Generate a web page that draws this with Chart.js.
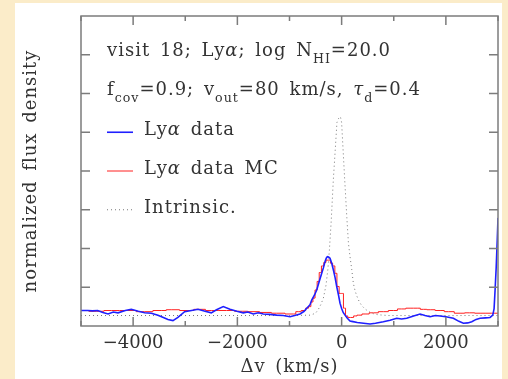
<!DOCTYPE html>
<html>
<head>
<meta charset="utf-8">
<script src="https://cdn.jsdelivr.net/npm/chart.js@4/dist/chart.umd.min.js"></script>
<style>
  html, body { margin: 0; padding: 0; }
  body { width: 508px; height: 379px; background: #fbecc9; position: relative; overflow: hidden; }
  #panel { position: absolute; left: 15px; top: 3px; width: 487px; height: 376px; background: #fff; }
  #c { position: absolute; left: 0; top: 0; }
</style>
</head>
<body>
<div id="panel"></div>
<canvas id="c" width="508" height="379"></canvas>
<script>
// Lya observed profile (blue)
const dataV = [-5000, -4870, -4780, -4680, -4580, -4480, -4380, -4290, -4150, -4036, -3900, -3779, -3650, -3524, -3420, -3332, -3236, -3140, -3012, -2880, -2756, -2620, -2501, -2400, -2271, -2142, -2010, -1887, -1800, -1695, -1600, -1503, -1380, -1246, -1120, -990, -900, -798, -720, -670, -606, -574, -520, -478, -430, -382, -350, -319, -295, -274, -250, -223, -190, -159, -125, -94, -60, -31, 0, 30, 65, 110, 161, 194, 300, 420, 545, 650, 800, 930, 1057, 1150, 1249, 1380, 1505, 1600, 1697, 1800, 1889, 2000, 2144, 2250, 2336, 2420, 2497, 2580, 2656, 2760, 2848, 2900, 2925, 2944, 2965, 2985, 3000];
const dataFlux = [0.40, 0.40, 0.39, 0.40, 0.35, 0.31, 0.36, 0.34, 0.40, 0.43, 0.38, 0.34, 0.33, 0.28, 0.22, 0.17, 0.14, 0.22, 0.37, 0.40, 0.43, 0.38, 0.34, 0.42, 0.50, 0.43, 0.38, 0.34, 0.36, 0.31, 0.34, 0.31, 0.30, 0.28, 0.27, 0.24, 0.27, 0.31, 0.38, 0.46, 0.55, 0.67, 0.80, 0.93, 1.15, 1.36, 1.50, 1.66, 1.75, 1.79, 1.78, 1.75, 1.62, 1.45, 1.25, 1.02, 0.80, 0.59, 0.45, 0.35, 0.28, 0.20, 0.13, 0.12, 0.09, 0.07, 0.05, 0.07, 0.11, 0.15, 0.20, 0.18, 0.20, 0.26, 0.31, 0.27, 0.24, 0.27, 0.26, 0.24, 0.20, 0.12, 0.07, 0.08, 0.11, 0.17, 0.20, 0.21, 0.22, 0.28, 0.45, 0.93, 1.50, 2.20, 2.79];

// Monte Carlo model (red, binned)
const mcV = [-5000, -4700, -4418, -4100, -3780, -3461, -3269, -2948, -2725, -2500, -2210, -1900, -1700, -1450, -1246, -927, -831, -720, -660, -610, -570, -530, -490, -450, -410, -365, -320, -280, -235, -195, -150, -110, -70, -25, 15, 55, 95, 140, 200, 260, 330, 450, 608, 800, 992, 1150, 1313, 1450, 1568, 1700, 1889, 2050, 2272, 2450, 2656, 2880, 3000];
const mcFlux = [0.40, 0.38, 0.40, 0.40, 0.37, 0.40, 0.42, 0.40, 0.43, 0.40, 0.40, 0.38, 0.37, 0.35, 0.33, 0.31, 0.37, 0.40, 0.46, 0.50, 0.62, 0.72, 0.93, 1.15, 1.38, 1.55, 1.64, 1.70, 1.70, 1.62, 1.55, 1.36, 1.02, 0.84, 0.84, 0.46, 0.26, 0.22, 0.22, 0.26, 0.28, 0.31, 0.34, 0.37, 0.40, 0.44, 0.46, 0.46, 0.43, 0.42, 0.40, 0.37, 0.33, 0.34, 0.33, 0.33, 0.33];

// intrinsic profile (dotted)
const intrV = [-5000, -1000, -600, -500, -450, -400, -350, -300, -265, -235, -200, -160, -120, -90, -60, -44, -20, 0, 30, 60, 100, 130, 160, 195, 225, 260, 290, 340, 390, 450, 520, 600, 700, 900, 3000];
const intrFlux = [0.27, 0.27, 0.28, 0.33, 0.42, 0.55, 0.72, 1.05, 1.45, 1.95, 2.70, 3.75, 4.60, 5.25, 5.35, 5.40, 5.38, 5.25, 4.50, 3.75, 2.80, 2.15, 1.80, 1.45, 1.10, 0.90, 0.78, 0.62, 0.52, 0.44, 0.37, 0.32, 0.29, 0.27, 0.27];

const xMajor = [-4000, -2000, 0, 2000];
const xMinor = [-5000, -3000, -1000, 1000, 3000];
const yMajor = [1, 2, 3, 4, 5, 6, 7];

const FONT = '"DejaVu Serif", serif';
const INK = '#333';
const pts = (xs, ys) => xs.map((v, i) => ({ x: v, y: ys[i] }));

// text runs: [string, kind] kind: n normal, i italic, s subscript
const labelLines = [
  { y: 6.97, runs: [['visit 18; Ly', 'n'], ['α', 'i'], ['; log N', 'n'], ['HI', 's'], ['=20.0', 'n']] },
  { y: 5.95, runs: [['f', 'n'], ['cov', 's'], ['=0.9; v', 'n'], ['out', 's'], ['=80 km/s, ', 'n'], ['τ', 'i'], ['d', 's'], ['=0.4', 'n']] }
];
const legendItems = [
  { y: 5.0, color: '#1f1fff', dash: [], width: 1.6, runs: [['Ly', 'n'], ['α', 'i'], [' data', 'n']] },
  { y: 4.0, color: '#ff2020', dash: [], width: 1, runs: [['Ly', 'n'], ['α', 'i'], [' data MC', 'n']] },
  { y: 3.0, color: '#777', dash: [1, 3], width: 1, runs: [['Intrinsic.', 'n']] }
];
const xTitle = 'Δv (km/s)';
const yTitle = 'normalized flux density';

function spaced(ctx) {
  ctx.letterSpacing = '1px';
  ctx.wordSpacing = '3px';
}

function drawRuns(ctx, x, base, runs, size) {
  ctx.textBaseline = 'alphabetic';
  ctx.textAlign = 'left';
  for (const [t, k] of runs) {
    let s = size, dy = 0, st = '';
    if (k === 's') { s = size * 0.7; dy = size * 0.38; }
    if (k === 'i') st = 'italic ';
    ctx.font = st + s + 'px ' + FONT;
    ctx.fillText(t, x, base + dy);
    x += ctx.measureText(t).width;
  }
}

const framePlugin = {
  id: 'frame',
  afterDatasetsDraw(chart) {
    const { ctx, chartArea: a, scales: { x, y } } = chart;
    ctx.save();
    ctx.strokeStyle = '#7c7c7c';
    ctx.lineWidth = 1.5;
    ctx.strokeRect(a.left, a.top, a.right - a.left, a.bottom - a.top);
    ctx.beginPath();
    for (const v of xMajor) {
      const px = x.getPixelForValue(v);
      ctx.moveTo(px, a.bottom); ctx.lineTo(px, a.bottom - 9);
      ctx.moveTo(px, a.top); ctx.lineTo(px, a.top + 9);
    }
    for (const v of xMinor) {
      const px = x.getPixelForValue(v);
      ctx.moveTo(px, a.bottom); ctx.lineTo(px, a.bottom - 5);
      ctx.moveTo(px, a.top); ctx.lineTo(px, a.top + 5);
    }
    for (const v of yMajor) {
      const py = y.getPixelForValue(v);
      ctx.moveTo(a.left, py); ctx.lineTo(a.left + 9, py);
      ctx.moveTo(a.right, py); ctx.lineTo(a.right - 9, py);
    }
    ctx.stroke();

    ctx.fillStyle = INK;
    spaced(ctx);
    const tx = a.left + 26;
    for (const l of labelLines) drawRuns(ctx, tx, y.getPixelForValue(l.y), l.runs, 18);
    for (const it of legendItems) {
      const py = y.getPixelForValue(it.y);
      ctx.strokeStyle = it.color;
      ctx.lineWidth = it.width;
      ctx.setLineDash(it.dash);
      ctx.beginPath();
      ctx.moveTo(a.left + 26, py); ctx.lineTo(a.left + 52, py);
      ctx.stroke();
      ctx.setLineDash([]);
      drawRuns(ctx, a.left + 63, py + 3, it.runs, 18);
    }

    // axis titles
    ctx.font = '18px ' + FONT;
    ctx.textAlign = 'center';
    ctx.textBaseline = 'alphabetic';
    ctx.fillText(xTitle, (a.left + a.right) / 2, 372);
    ctx.translate(36, (a.top + a.bottom) / 2);
    ctx.rotate(-Math.PI / 2);
    ctx.fillText(yTitle, 0, 0);
    ctx.restore();
  }
};

new Chart(document.getElementById('c'), {
  type: 'line',
  data: {
    datasets: [
      { data: pts(dataV, dataFlux), borderColor: '#1f1fff', borderWidth: 1.6, pointRadius: 0, tension: 0 },
      { data: pts(mcV, mcFlux), borderColor: '#ff2020', borderWidth: 1, pointRadius: 0, stepped: 'middle' },
      { data: pts(intrV, intrFlux), borderColor: '#777', borderWidth: 1, borderDash: [1, 3], pointRadius: 0, tension: 0 }
    ]
  },
  options: {
    responsive: false,
    animation: false,
    layout: { padding: { top: 16, right: 10, left: 0, bottom: 0 } },
    plugins: { legend: { display: false }, tooltip: { enabled: false } },
    scales: {
      x: {
        type: 'linear', min: -5000, max: 3000,
        afterFit(s) { s.height = 53; },
        afterBuildTicks(s) { s.ticks = xMajor.map(v => ({ value: v })); },
        grid: { display: false, drawTicks: false },
        border: { display: false },
        ticks: { color: INK, padding: 7, font: { family: FONT, size: 18 }, maxRotation: 0,
          callback: v => (v < 0 ? '\u2212' + Math.abs(v) : String(v)) }
      },
      y: {
        min: 0, max: 8,
        afterFit(s) { s.width = 81; },
        grid: { display: false, drawTicks: false },
        border: { display: false },
        ticks: { display: false }
      }
    }
  },
  plugins: [framePlugin]
});
</script>
</body>
</html>
